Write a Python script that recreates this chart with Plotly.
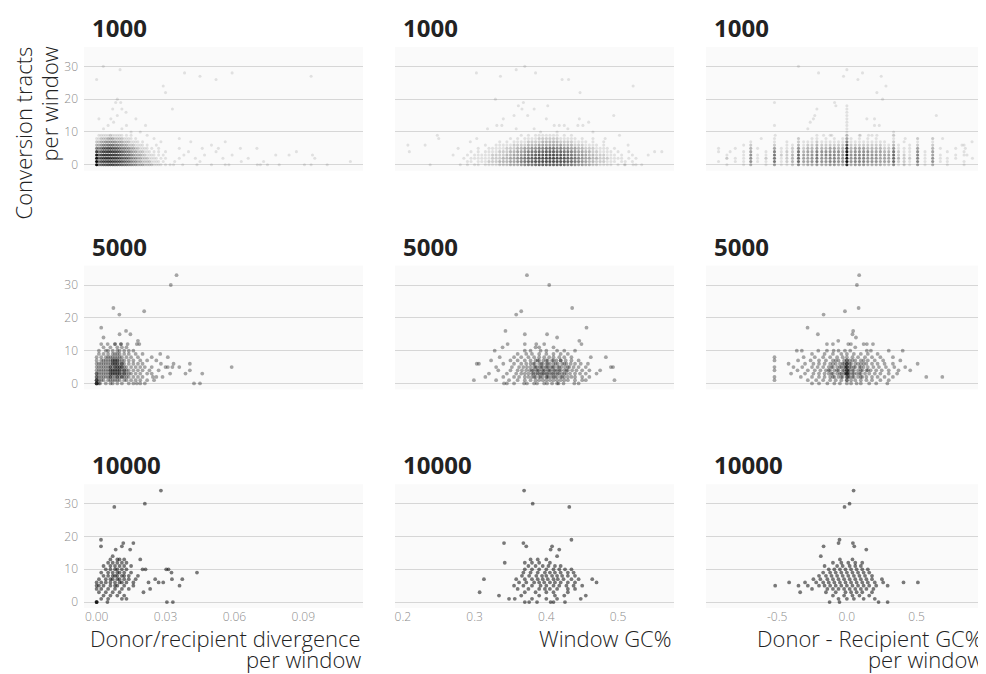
import plotly.graph_objects as go
from plotly.subplots import make_subplots

# ---------------------------------------------------------------- labels
WINDOW_SIZES = ["1000", "5000", "10000"]
X_TITLES = [["Donor/recipient divergence", "per window"], ["Window GC%"],
            ["Donor - Recipient GC%", "per window"]]
Y_TITLE = ["Conversion tracts", "per window"]
Y_TICKS = [0, 10, 20, 30]
X_TICKS = [[0, 0.03, 0.06, 0.09], [0.2, 0.3, 0.4, 0.5], [-0.5, 0.0, 0.5]]
X_TICK_TEXT = [["0.00", "0.03", "0.06", "0.09"], ["0.2", "0.3", "0.4", "0.5"], ["-0.5", "0.0", "0.5"]]

# ---------------------------------------------------------------- window 1000
# very dense panels: number of windows per (x bin, conversion tracts), rows are y = 0, 1, 2 ...
DIV_BINS_1000 = [0, .001, .002, .003, .004, .005, .006, .007, .008, .009, .010, .011, .012, .013, .014, .015,
                 .016, .017, .018, .019, .020, .021, .022, .023, .024, .025, .026, .027, .028, .029, .030]
DIV_COUNTS_1000 = [
    [30, 6, 7, 8, 8, 9, 9, 9, 8, 8, 7, 7, 6, 6, 5, 5, 4, 4, 3, 3, 3, 2, 2, 2, 2, 1, 1, 1, 1, 0, 1],
    [30, 7, 9, 10, 10, 11, 11, 10, 10, 9, 9, 8, 7, 6, 6, 5, 4, 4, 3, 3, 2, 2, 2, 2, 1, 1, 1, 1, 0, 1, 0],
    [25, 8, 10, 11, 12, 12, 12, 11, 11, 10, 9, 8, 7, 7, 6, 5, 4, 4, 3, 3, 2, 2, 2, 1, 1, 1, 1, 0, 1, 0, 1],
    [20, 8, 10, 12, 12, 12, 12, 11, 11, 10, 9, 8, 7, 6, 6, 5, 4, 3, 3, 3, 2, 2, 1, 1, 1, 1, 0, 1, 0, 1, 0],
    [12, 6, 8, 10, 10, 11, 11, 10, 10, 9, 8, 7, 6, 5, 5, 4, 3, 3, 2, 2, 2, 1, 1, 1, 0, 1, 0, 1, 0, 0, 1],
    [6, 5, 6, 8, 8, 9, 9, 8, 8, 7, 6, 5, 5, 4, 4, 3, 3, 2, 2, 1, 1, 1, 1, 0, 1, 0, 0, 1],
    [3, 3, 4, 5, 5, 6, 6, 6, 5, 5, 4, 4, 3, 3, 2, 2, 2, 1, 1, 1, 1, 0, 1, 0, 0, 0, 1],
    [2, 2, 3, 3, 4, 4, 4, 4, 4, 3, 3, 3, 2, 2, 2, 1, 1, 1, 1, 0, 1],
    [1, 1, 2, 2, 2, 3, 3, 3, 2, 2, 2, 2, 1, 1, 1, 1, 0, 1],
    [0, 1, 1, 1, 1, 1, 2, 1, 1, 1, 1, 1, 0, 1, 0, 1],
]
DIV_SPARSE_1000 = [
    (.032, 0), (.0335, 0), (.034, 1), (.0375, 0), (.036, 2), (.038, 3), (.036, 5), (.036, 8), (.040, 4),
    (.041, 7), (.0437, 0), (.043, 2), (.045, 1), (.046, 5), (.047, 3), (.050, 0), (.050, 6), (.052, 4),
    (.053, 5), (.055, 2), (.056, 0), (.0576, 0), (.056, 7), (.059, 3), (.0626, 5), (.063, 1), (.066, 2),
    (.0698, 5), (.070, 0), (.0713, 0), (.0727, 1), (.0744, 0), (.0795, 0), (.078, 3), (.0838, 3), (.087, 4),
    (.0905, 0), (.0934, 0), (.094, 3), (.095, 2), (.1004, 0), (.1105, 1),
    (.001, 14), (.0062, 14), (.0074, 13), (.009, 15), (.0128, 16), (.0171, 14), (.0213, 12), (.009, 20),
    (.0083, 19), (.0105, 19), (.003, 11), (.011, 11), (.015, 10), (.019, 10), (.022, 9), (.025, 8),
    (.028, 7), (.005, 12), (.013, 12), (.007, 17), (.011, 17), (.0029, 30), (0, 26), (.0102, 29),
    (.0383, 28), (.045, 27), (.052, 26), (.059, 28), (.0934, 27), (.029, 24), (.030, 22), (.033, 17),
]

GC_BINS_1000 = [.280, .285, .290, .295, .300, .305, .310, .315, .320, .325, .330, .335, .340, .345, .350,
                .355, .360, .365, .370, .375, .380, .385, .390, .395, .400, .405, .410, .415, .420, .425,
                .430, .435, .440, .445, .450, .455, .460, .465, .470, .475, .480, .485, .490, .495, .500,
                .505, .510, .515, .520, .525, .530]
GC_COUNTS_1000 = [
    [1, 0, 1, 0, 1, 1, 0, 1, 1, 1, 1, 2, 2, 2, 3, 3, 3, 4, 5, 6, 6, 7, 8, 8, 8, 8, 8, 8, 8, 7, 6, 6, 5, 4, 4,
     3, 3, 2, 2, 1, 1, 1, 1, 0, 1, 0, 1, 0, 0, 1, 0],
    [0, 0, 1, 1, 0, 1, 1, 1, 2, 2, 2, 3, 3, 3, 4, 4, 5, 6, 7, 8, 9, 10, 10, 11, 11, 11, 11, 11, 10, 10, 9, 8,
     7, 6, 5, 4, 3, 3, 2, 2, 2, 1, 1, 1, 0, 1, 1, 0, 1, 0, 0],
    [0, 1, 0, 1, 1, 1, 1, 1, 1, 2, 2, 2, 3, 3, 4, 4, 5, 6, 7, 8, 9, 10, 11, 11, 12, 12, 12, 11, 11, 10, 9, 8,
     7, 6, 5, 4, 4, 3, 3, 2, 2, 2, 1, 1, 1, 1, 0, 1, 0, 1, 0],
    [0, 0, 1, 0, 1, 1, 1, 1, 1, 2, 2, 2, 2, 3, 3, 4, 4, 5, 6, 7, 8, 9, 10, 10, 11, 11, 11, 10, 10, 9, 8, 7, 6,
     5, 5, 4, 3, 3, 2, 2, 2, 1, 1, 1, 0, 1, 0, 0, 1, 0, 0],
    [0, 0, 0, 1, 0, 1, 0, 1, 1, 1, 1, 2, 2, 2, 3, 3, 4, 4, 5, 6, 7, 7, 8, 8, 9, 9, 9, 8, 8, 7, 7, 6, 5, 4, 4,
     3, 3, 2, 2, 1, 1, 1, 1, 0, 1, 0, 0, 1],
    [0, 0, 0, 0, 0, 1, 0, 0, 1, 1, 1, 1, 1, 2, 2, 2, 3, 3, 4, 4, 5, 5, 6, 6, 7, 7, 7, 6, 6, 5, 5, 4, 4, 3, 3,
     2, 2, 2, 1, 1, 1, 1, 0, 1],
    [0, 0, 0, 0, 0, 0, 0, 1, 0, 0, 1, 1, 1, 1, 1, 2, 2, 2, 2, 3, 3, 3, 4, 4, 4, 4, 4, 4, 4, 3, 3, 3, 2, 2, 2,
     1, 1, 1, 1, 0, 1],
    [0, 0, 0, 0, 0, 0, 0, 0, 0, 0, 0, 1, 0, 1, 0, 1, 1, 1, 1, 2, 2, 2, 2, 3, 3, 3, 3, 3, 2, 2, 2, 2, 1, 1, 1,
     1, 0, 1, 0, 0, 1],
    [0, 0, 0, 0, 0, 0, 0, 0, 0, 0, 0, 0, 0, 0, 1, 0, 1, 0, 1, 1, 1, 1, 2, 2, 2, 2, 2, 2, 1, 1, 1, 1, 1, 0, 1,
     0, 0, 1],
    [0, 0, 0, 0, 0, 0, 0, 0, 0, 0, 0, 0, 0, 0, 0, 0, 0, 1, 0, 1, 0, 1, 1, 1, 1, 1, 1, 1, 0, 1, 0, 1],
]
GC_SPARSE_1000 = [
    (.207, 6), (.209, 4), (.248, 9), (.250, 8), (.231, 6), (.238, 0), (.277, 5), (.270, 3), (.294, 7),
    (.303, 8), (.3025, 28), (.336, 27), (.358, 29), (.370, 30), (.385, 28), (.422, 26), (.431, 26),
    (.447, 22), (.521, 24), (.329, 20), (.368, 19), (.366, 17), (.361, 18), (.383, 17), (.402, 18),
    (.355, 15), (.374, 15), (.340, 14), (.318, 11), (.331, 12), (.338, 12), (.358, 11), (.383, 11),
    (.400, 14), (.411, 12), (.418, 12), (.425, 12), (.446, 14), (.459, 13), (.494, 15), (.444, 12),
    (.451, 12), (.502, 9), (.514, 6), (.542, 3), (.551, 4), (.561, 4), (.509, 0), (.521, 0), (.533, 0),
    (.482, 8), (.465, 10), (.392, 10), (.415, 10), (.430, 11),
]

DIFF_BINS_1000 = [-.92, -.86, -.80, -.74, -.689, -.64, -.58, -.519, -.47, -.43, -.39, -.347, -.31, -.28, -.25,
                  -.215, -.18, -.15, -.12, -.09, -.06, -.03, 0, .03, .06, .09, .12, .15, .18, .21, .24, .27,
                  .30, .335, .37, .41, .45, .507, .56, .615, .67, .72, .78, .84, .90]
DIFF_COUNTS_1000 = [
    [0, 1, 0, 1, 3, 0, 1, 4, 1, 1, 2, 5, 2, 3, 3, 4, 3, 3, 4, 4, 3, 3, 15, 3, 4, 4, 4, 3, 3, 3, 3, 2, 2, 5, 1,
     2, 1, 4, 1, 3, 0, 1, 0, 1, 0],
    [1, 0, 1, 1, 5, 1, 1, 7, 1, 2, 3, 8, 4, 4, 5, 7, 5, 5, 6, 6, 5, 5, 25, 5, 6, 6, 6, 5, 5, 5, 4, 4, 4, 8, 2,
     2, 1, 6, 1, 5, 1, 1, 0, 1, 0],
    [0, 1, 1, 1, 5, 1, 2, 7, 1, 2, 3, 8, 4, 4, 5, 7, 5, 5, 6, 6, 5, 5, 25, 5, 6, 6, 6, 5, 5, 5, 4, 4, 4, 8, 3,
     2, 2, 6, 1, 5, 1, 1, 1, 0, 1],
    [0, 1, 0, 1, 5, 1, 1, 7, 2, 2, 3, 8, 4, 4, 5, 7, 5, 6, 6, 6, 5, 5, 25, 5, 6, 6, 6, 5, 5, 5, 4, 4, 4, 8, 2,
     2, 1, 6, 1, 4, 1, 0, 1, 1, 0],
    [1, 0, 0, 1, 4, 0, 1, 6, 1, 2, 2, 7, 3, 4, 4, 6, 5, 5, 5, 5, 5, 4, 22, 4, 5, 5, 5, 5, 4, 4, 4, 3, 3, 7, 2,
     1, 1, 5, 1, 4, 0, 1, 0, 1, 0],
    [0, 0, 1, 0, 3, 1, 0, 4, 1, 1, 2, 5, 2, 3, 3, 4, 3, 3, 4, 4, 3, 3, 15, 3, 4, 4, 4, 3, 3, 3, 3, 2, 2, 5, 1,
     1, 1, 4, 0, 3, 1, 0, 1],
    [0, 0, 0, 1, 2, 0, 0, 2, 0, 1, 1, 3, 1, 2, 2, 3, 2, 2, 2, 2, 2, 2, 10, 2, 2, 2, 2, 2, 2, 2, 2, 1, 1, 3, 1,
     0, 1, 2, 0, 2, 0, 0, 0, 1],
    [0, 0, 0, 0, 1, 0, 0, 1, 0, 1, 0, 2, 1, 1, 1, 2, 1, 1, 1, 1, 1, 1, 6, 1, 1, 1, 1, 1, 1, 1, 1, 1, 0, 2, 0,
     1, 0, 1, 0, 1],
    [0, 0, 0, 0, 0, 0, 0, 1, 0, 0, 0, 1, 0, 0, 1, 1, 0, 1, 0, 1, 0, 1, 4, 1, 0, 1, 0, 1, 0, 1, 0, 0, 0, 1, 0,
     0, 0, 1, 0, 1],
    [0, 0, 0, 0, 0, 0, 0, 0, 0, 0, 0, 0, 0, 0, 0, 1, 0, 0, 1, 0, 0, 0, 3, 0, 0, 1, 0, 0, 1, 0, 0, 0, 0, 1],
]
DIFF_SPARSE_1000 = [
    (-.347, 30), (-.203, 28), (0, 29), (-.024, 27), (.079, 26), (.112, 28), (.246, 27), (.28, 24), (.215, 22),
    (.256, 20), (-.519, 19), (-.088, 19), (-.079, 18), (0, 18), (0, 17), (0, 16), (0, 15), (0, 14), (0, 13),
    (0, 12), (0, 11), (0, 10), (-.215, 17), (-.23, 15), (-.24, 14), (-.263, 13), (-.28, 11), (-.519, 12),
    (.143, 14), (.198, 14), (.198, 12), (.232, 12), (.641, 15), (.335, 10), (.686, 8), (-.92, 5), (.897, 7),
    (.825, 6), (.849, 5), (.861, 3), (-.837, 4), (-.861, 2), (-.514, 9), (-.614, 8), (-.347, 8), (-.167, 9),
    (-.108, 9), (.096, 9), (.155, 9), (.215, 9), (.335, 9), (.418, 8), (.507, 8), (.615, 8),
]

# ---------------------------------------------------------------- window 5000
# {conversion tracts per window: [x of each window, ...]}
DIV_5000 = {
    0: [0, 0, 0, 0, .001, .0015, .004, .006, .007, .009, .011, .014, .016, .0175, .019, .021, .0424, .045],
    1: [0, 0, 0, .001, .002, .003, .005, .006, .007, .008, .009, .010, .012, .013, .015, .017, .019, .022, .025],
    2: [0, 0, .001, .002, .003, .004, .005, .006, .007, .008, .009, .010, .011, .012, .013, .014, .016, .018,
        .020, .0245, .026, .0287, .006, .009, .011],
    3: [0, 0, .001, .002, .003, .004, .005, .006, .007, .007, .008, .009, .010, .010, .011, .012, .013, .014,
        .015, .017, .019, .022, .024, .032, .0387, .046, .006, .008, .009, .012],
    4: [0, .001, .002, .003, .004, .005, .006, .007, .008, .008, .009, .010, .011, .012, .013, .014, .016, .018,
        .020, .023, .027, .0406, .006, .007, .009, .010, .012],
    5: [0, .001, .002, .003, .004, .005, .006, .007, .008, .009, .009, .010, .011, .012, .013, .015, .017, .019,
        .021, .024, .030, .031, .033, .036, .0588, .006, .008, .010, .011],
    6: [0, .001, .002, .003, .004, .005, .006, .007, .007, .008, .009, .010, .011, .012, .014, .016, .018, .020,
        .028, .0335, .0406, .008, .009, .011],
    7: [0, .002, .003, .004, .005, .006, .007, .008, .008, .009, .010, .011, .012, .014, .016, .019, .022, .026,
        .007, .009],
    8: [0, .002, .004, .005, .006, .007, .008, .009, .010, .011, .013, .015, .018, .024, .031],
    9: [.001, .003, .005, .007, .008, .009, .010, .012, .014, .017, .020, .0277],
    10: [.001, .004, .005, .007, .009, .010, .012, .014, .016],
    11: [.003, .006, .009, .011, .013],
    12: [.002, .0048, .008, .008, .0106, .0106, .0135, .0175, .0186],
    13: [.018], 14: [.003], 15: [.010, .0147], 16: [.0128], 17: [.002],
    21: [.0099], 22: [.0207], 23: [.0073], 30: [.0323], 33: [.0348],
}
GC_5000 = {
    0: [.341, .345, .355, .369, .373, .383, .387, .397, .401, .408, .415, .417, .424, .439, .445],
    1: [.299, .33, .348, .36, .37, .378, .385, .39, .395, .40, .405, .41, .415, .42, .425, .43, .44, .45, .455,
        .495],
    2: [.315, .34, .355, .362, .37, .375, .38, .385, .39, .395, .40, .403, .407, .41, .415, .42, .425, .43,
        .435, .44, .45, .46, .383, .392, .401, .412, .422],
    3: [.32, .345, .358, .365, .37, .375, .38, .385, .39, .393, .397, .40, .405, .41, .413, .418, .422, .428,
        .433, .44, .447, .455, .47, .382, .388, .395, .402, .408, .416, .425],
    4: [.333, .35, .36, .366, .372, .377, .382, .386, .39, .394, .398, .402, .406, .41, .415, .42, .425, .43,
        .436, .442, .45, .46, .475, .38, .388, .396, .404, .412, .418, .428],
    5: [.33, .352, .362, .368, .373, .378, .383, .387, .391, .395, .399, .403, .407, .411, .416, .421, .426,
        .432, .438, .445, .455, .49, .493, .385, .393, .401, .409, .418, .43],
    6: [.303, .306, .34, .355, .365, .372, .378, .384, .39, .395, .40, .405, .41, .416, .422, .428, .434, .44,
        .448, .458, .382, .393, .402, .413, .425],
    7: [.323, .35, .36, .37, .378, .385, .39, .396, .402, .408, .414, .42, .427, .435, .445, .388, .40, .41, .42],
    8: [.335, .355, .365, .375, .383, .39, .397, .404, .41, .418, .425, .435, .462, .483],
    9: [.36, .372, .38, .39, .40, .41, .42, .43],
    10: [.328, .37, .378, .392, .40, .415, .425, .44],
    11: [.339, .385, .39, .41],
    12: [.346, .37, .386, .397, .449],
    13: [.446], 14: [.415], 15: [.370, .401], 16: [.343], 17: [.456],
    21: [.358], 22: [.365], 23: [.436], 30: [.404], 33: [.373],
}
DIFF_5000 = {
    0: [-.25, -.2, -.14, -.09, -.05, 0, .03, .07, .1, .16, .21, .29],
    1: [-.519, -.28, -.22, -.17, -.12, -.08, -.04, 0, 0, .03, .06, .1, .14, .18, .24, .3],
    2: [-.519, -.33, -.25, -.2, -.16, -.12, -.09, -.06, -.03, 0, 0, .02, .05, .08, .11, .14, .18, .22, .27, .33,
        .569, .684, -.1, -.04, .01, .04, .1],
    3: [-.4, -.3, -.24, -.2, -.16, -.13, -.1, -.07, -.04, -.02, 0, 0, 0, .02, .04, .07, .1, .13, .16, .2, .24,
        .3, .36, -.11, -.05, -.01, .01, .05, .09],
    4: [-.519, -.354, -.28, -.23, -.19, -.15, -.12, -.09, -.06, -.03, 0, 0, 0, .02, .05, .08, .11, .14, .17,
        .21, .25, .3, .37, .454, -.13, -.07, -.02, .01, .04, .1, .15],
    5: [-.519, -.383, -.32, -.25, -.21, -.17, -.13, -.1, -.07, -.04, -.01, 0, 0, 0, .03, .06, .09, .12, .15,
        .19, .23, .28, .34, .418, -.11, -.05, -.02, .02, .05, .1],
    6: [-.418, -.3, -.24, -.2, -.16, -.12, -.08, -.05, -.02, 0, 0, .03, .06, .1, .14, .18, .22, .27, .33, .507,
        -.1, -.03, 0, .02, .08, .12],
    7: [-.519, -.35, -.26, -.2, -.15, -.1, -.06, -.02, 0, .02, .06, .1, .15, .2, .26, .383, -.08, 0, .04, .12],
    8: [-.519, -.31, -.23, -.17, -.12, -.07, -.03, 0, .04, .08, .13, .18, .24, .33],
    9: [-.25, -.16, -.1, -.04, 0, .05, .1, .15, .22],
    10: [-.359, -.323, -.205, -.143, -.095, -.06, -.014, .024, .143, .172, .3, .4],
    11: [.06], 12: [-.143, -.1, .01, .029, .12, .143, .187], 13: [-.062], 14: [.065], 15: [-.208, .04],
    16: [.045], 17: [-.282], 21: [-.167], 22: [-.014], 23: [.084], 30: [.072], 33: [.088],
}

# ---------------------------------------------------------------- window 10000
DIV_10000 = {
    0: [0, 0, 0, .0047, .0306, .0332],
    1: [.002, .005, .011, .013],
    2: [.003, .006, .009, .012],
    3: [.001, .004, .007, .01, .0204],
    4: [0, .002, .005, .008, .011, .014, .0233],
    5: [0, .001, .003, .006, .008, .009, .012, .016, .0361],
    6: [0, .002, .004, .006, .008, .01, .011, .013, .016, .0226, .027, .029],
    7: [.001, .004, .006, .007, .009, .01, .012, .014, .017, .0255, .0328, .0373],
    8: [.003, .005, .007, .008, .009, .011, .012, .014, .018],
    9: [.002, .005, .007, .009, .01, .012, .015, .0326, .0437],
    10: [.004, .006, .008, .009, .011, .013, .02, .0213, .0303, .0313],
    11: [.003, .006, .008, .01, .012, .015],
    12: [.005, .007, .009, .011, .013],
    13: [.006, .009, .01, .012, .019],
    14: [.007], 16: [.0083, .0146], 17: [.0019, .011], 18: [.0116, .016], 19: [.0019],
    29: [.0077], 30: [.021], 34: [.028],
}
GC_10000 = {
    0: [.37, .376, .387, .406, .41, .426],
    1: [.348, .356, .38, .40, .415, .448],
    2: [.334, .365, .39, .412, .425, .455],
    3: [.307, .37, .385, .40, .41, .43],
    4: [.36, .375, .39, .398, .405, .415, .43, .44],
    5: [.355, .368, .38, .392, .40, .41, .418, .428, .438, .45],
    6: [.362, .372, .383, .39, .397, .405, .412, .42, .43, .44, .47],
    7: [.313, .358, .37, .38, .388, .395, .402, .41, .416, .424, .435, .445, .464],
    8: [.366, .376, .386, .394, .40, .408, .415, .422, .43, .44],
    9: [.368, .378, .388, .398, .405, .412, .42, .43, .438],
    10: [.37, .38, .39, .40, .41, .418, .426, .435],
    11: [.375, .385, .395, .403, .412, .42],
    12: [.342, .37, .38, .39, .405],
    13: [.378, .388, .40],
    14: [.415], 16: [.406, .418], 17: [.372, .408], 18: [.341, .368], 19: [.435],
    29: [.432], 30: [.381], 34: [.369],
}
DIFF_10000 = {
    0: [-.124, -.053, .227, .292],
    1: [-.06, 0, .05, .12, .2],
    2: [-.1, -.02, .04, .09, .16],
    3: [-.335, -.15, -.08, -.01, .03, .07, .11, .18],
    4: [-.25, -.14, -.1, -.06, -.02, .02, .06, .1, .14, .19],
    5: [-.514, -.347, -.28, -.2, -.16, -.12, -.08, -.04, 0, .04, .08, .12, .16, .21, .292],
    6: [-.414, -.3, -.22, -.17, -.13, -.09, -.05, -.01, .03, .07, .11, .15, .2, .26, .406, .509],
    7: [-.24, -.19, -.14, -.1, -.06, -.02, .02, .06, .1, .14, .18, .251],
    8: [-.2, -.15, -.11, -.07, -.03, .01, .05, .09, .13, .18],
    9: [-.17, -.12, -.08, -.04, 0, .04, .08, .12, .16],
    10: [-.13, -.09, -.05, -.01, .03, .07, .11, .15],
    11: [-.16, -.07, -.03, .02, .06, .1],
    12: [-.1, -.04, .01, .06, .11],
    13: [-.05, .04],
    14: [-.187], 16: [.139], 17: [-.167, .053], 18: [-.06, .043], 19: [-.053],
    29: [-.017], 30: [.019], 34: [.048],
}


def lattice_points(bins, counts, sparse):
    """Turn binned counts into one marker per bin, with the number of windows kept."""
    xs, ys, ns = [], [], []
    for y, row in enumerate(counts):
        for x, n in zip(bins, row):
            if n > 0:
                xs.append(x)
                ys.append(y)
                ns.append(n)
    for x, y in sparse:
        xs.append(x)
        ys.append(y)
        ns.append(1)
    return xs, ys, ns


def level_points(levels):
    xs, ys = [], []
    for y, row in levels.items():
        xs += row
        ys += [y] * len(row)
    return xs, ys


# the page body adds an 8px margin, so the figure is 8px smaller than the window
fig = make_subplots(rows=3, cols=3, horizontal_spacing=0.0355, vertical_spacing=0.1693)

# row 1: alpha of a stack of n points is 1 - (1 - a)^n
alpha_1000 = 0.1
for c, (bins, counts, sparse) in enumerate([(DIV_BINS_1000, DIV_COUNTS_1000, DIV_SPARSE_1000),
                                            (GC_BINS_1000, GC_COUNTS_1000, GC_SPARSE_1000),
                                            (DIFF_BINS_1000, DIFF_COUNTS_1000, DIFF_SPARSE_1000)]):
    xs, ys, ns = lattice_points(bins, counts, sparse)
    fig.add_trace(go.Scatter(x=xs, y=ys, mode="markers", hoverinfo="skip",
                             marker=dict(color="black", size=3.1, line=dict(width=0),
                                         opacity=[1 - (1 - alpha_1000) ** n for n in ns])),
                  row=1, col=c + 1)

for r, (panels, alpha) in enumerate([([DIV_5000, GC_5000, DIFF_5000], 0.34),
                                     ([DIV_10000, GC_10000, DIFF_10000], 0.52)]):
    for c, levels in enumerate(panels):
        xs, ys = level_points(levels)
        fig.add_trace(go.Scatter(x=xs, y=ys, mode="markers", hoverinfo="skip",
                                 marker=dict(color="black", size=3.8, opacity=alpha, line=dict(width=0))),
                      row=r + 2, col=c + 1)

x_ranges = [[-0.0055, 0.116], [0.189, 0.578], [-1.01, 0.99]]
tick_font = dict(family="Open Sans", size=12, color="#8c8c8c", weight=300)
for r in range(3):
    for c in range(3):
        fig.update_xaxes(range=x_ranges[c], showgrid=False, zeroline=False, showline=False, ticks="",
                         tickvals=X_TICKS[c], ticktext=X_TICK_TEXT[c], showticklabels=(r == 2),
                         tickfont=tick_font, automargin=False, row=r + 1, col=c + 1)
        fig.update_yaxes(range=[-1.8, 35.9], tickvals=Y_TICKS, showgrid=True, gridcolor="#d6d6d6",
                         gridwidth=1, zeroline=False, showline=False, ticks="", showticklabels=(c == 0),
                         ticklabelstandoff=5, tickfont=tick_font, automargin=False, row=r + 1, col=c + 1)

title_font = dict(family="Open Sans", size=22, color="#222", weight=300)
annotations = []
for r in range(3):
    for c in range(3):
        sp = fig.get_subplot(r + 1, c + 1)
        annotations.append(dict(text=WINDOW_SIZES[r], xref="paper", yref="paper",
                                x=sp.xaxis.domain[0], y=sp.yaxis.domain[1], xanchor="left", yanchor="bottom",
                                xshift=6, yshift=1, showarrow=False,
                                font=dict(family="Open Sans", size=24, color="#222", weight=700)))
for c in range(3):
    sp = fig.get_subplot(3, c + 1)
    for i, line in enumerate(X_TITLES[c]):
        annotations.append(dict(text=line, xref="paper", yref="paper", x=sp.xaxis.domain[1], y=0,
                                xanchor="right", yanchor="middle", xshift=0, yshift=-30 - 21 * i,
                                showarrow=False, font=title_font))
for i, line in enumerate(Y_TITLE):
    annotations.append(dict(text=line, xref="paper", yref="paper", x=0, y=1, xanchor="center", yanchor="top",
                            xshift=-62 + 26 * i, yshift=2, textangle=-90, showarrow=False, font=title_font))

fig.update_layout(template="none", width=978, height=666, margin=dict(l=76, r=1, t=39, b=66),
                  paper_bgcolor="white", plot_bgcolor="#fafafa", showlegend=False,
                  font=dict(family="Open Sans", color="#222"), annotations=annotations)

fig.write_html("out.html")
